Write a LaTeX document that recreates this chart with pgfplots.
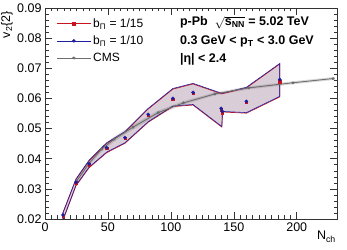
\documentclass[border=0pt]{standalone}
\usepackage{fontspec}
\setmainfont{Liberation Sans}
\usepackage{pgfplots}
\pgfplotsset{compat=1.18}
\definecolor{rootred}{RGB}{200,20,30}
\definecolor{rootblue}{RGB}{30,30,160}
\definecolor{bandfill}{RGB}{217,205,216}
\definecolor{cmsgray}{RGB}{110,110,110}
\begin{document}
\begin{tikzpicture}
\begin{axis}[
  name=ax,
  scale only axis,
  width=292pt, height=211pt,
  xmin=0, xmax=232, ymin=0.02, ymax=0.09,
  tick align=inside,
  major tick length=7pt, minor tick length=3.5pt,
  xtick={0,50,100,150,200}, xticklabels={0,50,100,150,200},
  minor x tick num=9,
  ytick={0.02,0.03,0.04,0.05,0.06,0.07,0.08,0.09},
  yticklabels={0.02,0.03,0.04,0.05,0.06,0.07,0.08,0.09},
  minor y tick num=4,
  scaled y ticks=false,
  tick label style={font=\fontsize{12.5}{14}\selectfont},
  axis line style={line width=0.6pt, black!80},
  every tick/.style={black!80, line width=0.5pt},
  legend style={draw=none, fill=none, at={(axis description cs:0.035,0.965)}, anchor=north west,
    font=\fontsize{12}{14}\selectfont, row sep=3pt, inner sep=1pt},
  legend cell align=left,
  legend image code/.code={\draw[mark repeat=2,mark phase=2,#1] plot coordinates {(0pt,0pt) (17pt,0pt) (34pt,0pt)};},
]
% band fill
\addplot[fill=bandfill, draw=none, forget plot] coordinates {
 (14.3,0.0222) (24.6,0.0333) (35,0.0395) (49,0.0453) (63.5,0.0490) (82,0.0567) (101.6,0.0633) (117.6,0.0650) (140.5,0.0617) (160,0.0637) (186.5,0.0716)
 (186.5,0.0607) (160,0.0553) (141,0.0557) (140.5,0.0507) (117.6,0.0580) (101.6,0.0575) (82,0.0523) (63.5,0.0453) (49,0.0422) (35,0.0372) (24.6,0.0312) (14.3,0.0198) (14.3,0.0222)};
% CMS band
\addplot[fill=cmsgray, fill opacity=0.25, draw=none, forget plot] coordinates {
 (25,0.0333) (35,0.0393) (45,0.0440) (55,0.0473) (70,0.0513) (90,0.0560) (110,0.0591) (135,0.0620) (162,0.0640) (197,0.0657) (229,0.0671)
 (229,0.0661) (197,0.0647) (162,0.0630) (135,0.0610) (110,0.0579) (90,0.0546) (70,0.0497) (55,0.0457) (45,0.0424) (35,0.0377) (25,0.0317) (25,0.0333)};
% red outline (1/15)
\addplot[rootred, line width=0.7pt, forget plot] coordinates {
 (14.3,0.0220) (24.6,0.0331) (35,0.0393) (49,0.0451) (63.5,0.0488) (82,0.0565) (101.6,0.0631) (117.6,0.0648) (140.5,0.0615) (160,0.0635) (186.5,0.0714)
 (186.5,0.0605) (160,0.0551) (141,0.0555) (140.5,0.0505) (117.6,0.0578) (101.6,0.0573) (82,0.0521) (63.5,0.0451) (49,0.0420) (35,0.0370) (24.6,0.0310) (14.3,0.0196) (14.3,0.0220)};
% blue outline (1/10)
\addplot[rootblue, line width=0.55pt, forget plot] coordinates {
 (14.3,0.0222) (24.6,0.0333) (35,0.0395) (49,0.0453) (63.5,0.0490) (82,0.0567) (101.6,0.0633) (117.6,0.0650) (140.5,0.0617) (160,0.0637) (186.5,0.0716)
 (186.5,0.0607) (160,0.0553) (141,0.0557) (140.5,0.0507) (117.6,0.0580) (101.6,0.0575) (82,0.0523) (63.5,0.0453) (49,0.0422) (35,0.0372) (24.6,0.0312) (14.3,0.0198) (14.3,0.0222)};
% CMS line
\addplot[cmsgray, line width=0.9pt, mark=star, mark size=1.5pt, forget plot] coordinates {
 (25,0.0325) (35,0.0385) (45,0.0432) (55,0.0465) (70,0.0505) (90,0.0553) (110,0.0585) (135,0.0615) (162,0.0635) (197,0.0652) (229,0.0666)};
% red points
\addplot[only marks, mark=square*, mark size=1.2pt, rootred, forget plot] coordinates {
 (14.3,0.0210) (24.6,0.0320) (35,0.0380) (49,0.0435) (63.5,0.0468) (82,0.0545) (101.6,0.0598) (117.6,0.0618) (140,0.0562) (141,0.0553) (160,0.0588) (186.5,0.0655)};
% blue points
\addplot[only marks, mark=*, mark size=1.6pt, rootblue, forget plot] coordinates {
 (14.3,0.0213) (24.6,0.0322) (35,0.0383) (49,0.0437) (63.5,0.0470) (82,0.0547) (101.6,0.0600) (117.6,0.0620) (140,0.0567) (141,0.0557) (160,0.0590) (186.5,0.0663)};
\addlegendimage{rootred, line width=0.6pt, mark=square*, mark size=1.4pt}
\addlegendentry{b\textsubscript{Π} = 1/15}
\addlegendimage{rootblue, line width=0.6pt, mark=*, mark size=1.4pt}
\addlegendentry{b\textsubscript{Π} = 1/10}
\addlegendimage{cmsgray, line width=0.8pt, mark=star, mark size=1.5pt}
\addlegendentry{CMS}
\node[anchor=west, font=\fontsize{12.5}{14}\selectfont\bfseries, inner sep=0pt] at (rel axis cs:0.462,0.93) {p-Pb\ \ $\sqrt{\mbox{s\textsubscript{NN}}}$ = 5.02 TeV};
\node[anchor=west, font=\fontsize{12.5}{14}\selectfont\bfseries, inner sep=0pt] at (rel axis cs:0.462,0.84) {0.3 GeV < p\textsubscript{T} < 3.0 GeV};
\node[anchor=west, font=\fontsize{12.5}{14}\selectfont\bfseries, inner sep=0pt] at (rel axis cs:0.462,0.755) {|η| < 2.4};
\end{axis}
\node[rotate=90, anchor=south east, inner sep=0pt, font=\fontsize{12.5}{14}\selectfont] at ([xshift=-32pt,yshift=-3pt]ax.north west) {v\textsubscript{2}\{2\}};
\node[anchor=north east, inner sep=0pt, font=\fontsize{12.5}{14}\selectfont] at ([xshift=-1pt,yshift=-12pt]ax.south east) {N\textsubscript{ch}};
\pgfresetboundingbox
\path ([xshift=-45pt,yshift=-31pt]ax.south west) rectangle ([xshift=10pt,yshift=8pt]ax.north east);
\end{tikzpicture}
\end{document}
